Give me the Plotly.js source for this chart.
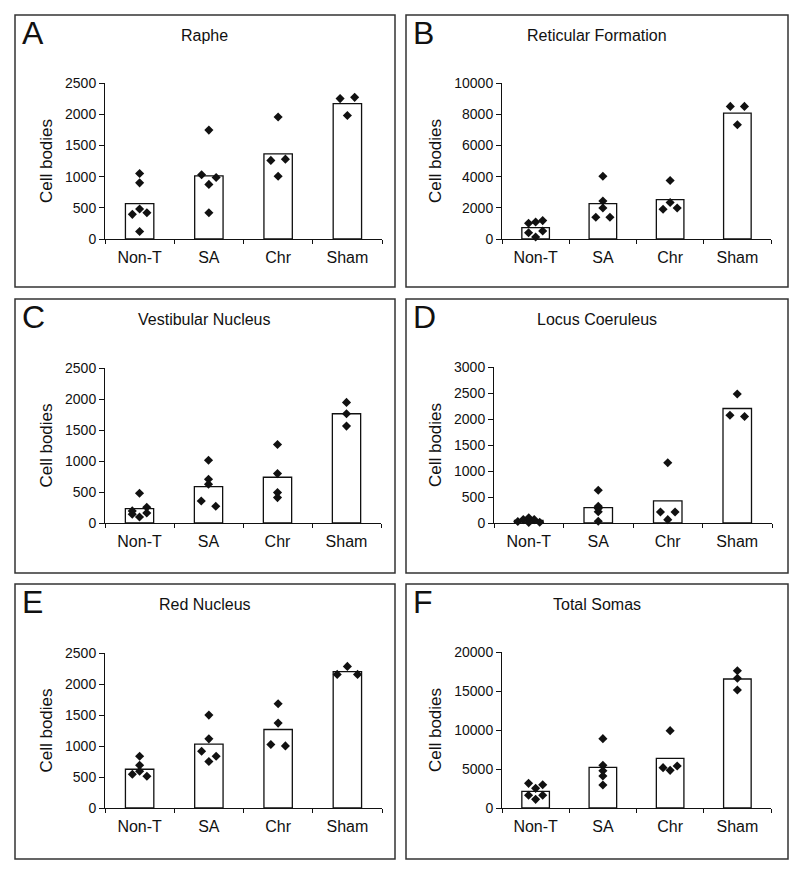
<!DOCTYPE html>
<html>
<head>
<meta charset="utf-8">
<script src="https://cdn.plot.ly/plotly-3.0.1.min.js"></script>
<style>
  html,body{margin:0;padding:0;background:#fff;}
  #chart{width:800px;height:874px;}
</style>
</head>
<body>
<div id="chart"></div>
<script>
// groups on every panel
const groups = ['Non-T', 'SA', 'Chr', 'Sham'];

// bar = group mean, pts = one diamond per animal, side = which side of the bar centre a diamond sits
const rapheMean = [567, 1012, 1365, 2168];
const raphePts = [[1050, 900, 480, 395, 420, 120], [1745, 1030, 985, 875, 420], [1955, 1260, 1280, 1005], [2250, 2270, 1980]];
const rapheSide = [[0, 0, 0, -1, 1, 0], [0, -1, 1, 0, 0], [0, -1, 1, 0], [-1, 1, 0]];

const reticMean = [728, 2270, 2527, 8073];
const reticPts = [[1005, 1090, 1180, 405, 515, 130], [4025, 2440, 1990, 1390, 1390], [3750, 2335, 1905, 1990], [8500, 8500, 7325]];
const reticSide = [[-1, 0, 1, -1, 1, 0], [0, 0, 0, -1, 1], [0, 0, -1, 1], [-1, 1, 0]];

const vestMean = [232, 587, 738, 1762];
const vestPts = [[480, 195, 140, 255, 162, 97], [1013, 705, 625, 355, 270], [1265, 797, 490, 410], [1945, 1762, 1563]];
const vestSide = [[0, -1, -1, 1, 1, 0], [0, 0, 0, -1, 1], [0, 0, 0, 0], [0, 0, 0]];

const locusMean = [50, 296, 425, 2202];
const locusPts = [[30, 65, 100, 65, 15, 10], [630, 320, 280, 215, 35], [1160, 212, 212, 64], [2480, 2073, 2048]];
const locusSide = [[-1.5, -0.75, 0, 0.75, 1.5, 0], [0, 0, 0, 0, 0], [0, -1, 1, 0], [0, -1, 1]];

const redMean = [625, 1029, 1266, 2198];
const redPts = [[835, 690, 593, 544, 512], [1498, 1115, 916, 835, 749], [1681, 1369, 1024, 1002], [2284, 2155, 2155]];
const redSide = [[0, 0, 0, -1, 1], [0, 0, -1, 1, 0], [0, 0, -1, 1], [0, -1.4, 1.4]];

const totalMean = [2137, 5214, 6368, 16538];
const totalPts = [[3160, 2520, 2990, 1625, 1625, 1110], [8890, 5470, 4785, 4105, 2950], [9915, 5170, 4830, 5385], [17600, 16625, 15130]];
const totalSide = [[-1, 0, 1, -1, 1, 0], [0, 0, 0, 0, 0], [0, -1, 0, 1], [0, 0, 0]];

const W = 800, H = 874;
const FONT = 'Arial, "Liberation Sans", sans-serif';
const INK = '#111';

// box = panel frame [x0,y0,x1,y1] px, plot = axes area px
const panels = [
  {letter:'A', title:'Raphe', mean:rapheMean, pts:raphePts, side:rapheSide, ymax:2500, dtick:500,
   box:[15,15,395,287], plot:[105,83,382,239]},
  {letter:'B', title:'Reticular Formation', mean:reticMean, pts:reticPts, side:reticSide, ymax:10000, dtick:2000,
   box:[406,15,788,287], plot:[502,83,771,239]},
  {letter:'C', title:'Vestibular Nucleus', mean:vestMean, pts:vestPts, side:vestSide, ymax:2500, dtick:500,
   box:[15,299,395,573], plot:[105,368,381,523]},
  {letter:'D', title:'Locus Coeruleus', mean:locusMean, pts:locusPts, side:locusSide, ymax:3000, dtick:500,
   box:[406,299,788,573], plot:[494,367,772,523]},
  {letter:'E', title:'Red Nucleus', mean:redMean, pts:redPts, side:redSide, ymax:2500, dtick:500,
   box:[15,584,395,859], plot:[105,653,382,808]},
  {letter:'F', title:'Total Somas', mean:totalMean, pts:totalPts, side:totalSide, ymax:20000, dtick:5000,
   box:[406,584,788,859], plot:[502,652,771,808]},
];

const px = x => x / W;
const py = y => 1 - y / H;
const JIT = 0.105;

const traces = [];
const layout = {
  width: W, height: H,
  margin: {l:0, r:0, t:0, b:0},
  paper_bgcolor: '#fff', plot_bgcolor: 'rgba(0,0,0,0)',
  showlegend: false,
  font: {family: FONT, color: INK},
  shapes: [], annotations: []
};

panels.forEach((p, i) => {
  const n = i + 1;
  const xa = n === 1 ? 'x' : 'x' + n;
  const ya = n === 1 ? 'y' : 'y' + n;
  const xKey = n === 1 ? 'xaxis' : 'xaxis' + n;
  const yKey = n === 1 ? 'yaxis' : 'yaxis' + n;

  traces.push({
    type: 'bar', x: groups.map((g, k) => k), y: p.mean, width: 0.41,
    marker: {color: '#fff', line: {color: INK, width: 1.3}},
    xaxis: xa, yaxis: ya, hoverinfo: 'y'
  });

  const xs = [], ys = [];
  p.pts.forEach((arr, k) => {
    arr.forEach((v, j) => { xs.push(k + p.side[k][j] * JIT); ys.push(v); });
  });
  traces.push({
    type: 'scatter', mode: 'markers', x: xs, y: ys,
    marker: {symbol: 'diamond', size: 7, color: INK},
    xaxis: xa, yaxis: ya, cliponaxis: false, hoverinfo: 'y'
  });

  const [x0, y0, x1, y1] = p.plot;
  layout[xKey] = {
    domain: [px(x0), px(x1)], anchor: ya,
    range: [-0.5, 3.5], fixedrange: true,
    tickvals: [0, 1, 2, 3], ticktext: groups,
    ticks: '', ticklabelstandoff: 4,
    tickfont: {size: 16, family: FONT, color: INK},
    showline: true, linecolor: INK, linewidth: 1,
    showgrid: false, zeroline: false, automargin: false,
    minor: {tickvals: [-0.5, 0.5, 1.5, 2.5, 3.5], ticks: 'outside', ticklen: 4, tickcolor: INK, tickwidth: 1, showgrid: false}
  };
  layout[yKey] = {
    domain: [py(y1), py(y0)], anchor: xa,
    range: [0, p.ymax], dtick: p.dtick, tick0: 0, tickformat: 'd', fixedrange: true,
    ticks: 'outside', ticklen: 5, tickcolor: INK, tickwidth: 1,
    tickfont: {size: 14, family: FONT, color: INK},
    showline: true, linecolor: INK, linewidth: 1,
    showgrid: false, zeroline: false, automargin: false,
    title: {text: 'Cell bodies', font: {size: 17, family: FONT, color: INK}, standoff: 8}
  };

  const [b0, c0, b1, c1] = p.box;
  layout.shapes.push({type: 'rect', xref: 'paper', yref: 'paper',
    x0: px(b0), x1: px(b1), y0: py(c1), y1: py(c0), line: {color: '#333', width: 1.5}});

  layout.annotations.push({xref: 'paper', yref: 'paper', x: px(b0 + 5), y: py(c0 + 18),
    xanchor: 'left', yanchor: 'middle', showarrow: false, text: p.letter,
    font: {size: 32, family: FONT, color: INK}});
  layout.annotations.push({xref: 'paper', yref: 'paper', x: px((b0 + b1) / 2), y: py(c0 + 20),
    xanchor: 'center', yanchor: 'middle', showarrow: false, text: p.title,
    font: {size: 16, family: FONT, color: INK}});
});

Plotly.newPlot('chart', traces, layout, {staticPlot: true, displayModeBar: false});
</script>
</body>
</html>
